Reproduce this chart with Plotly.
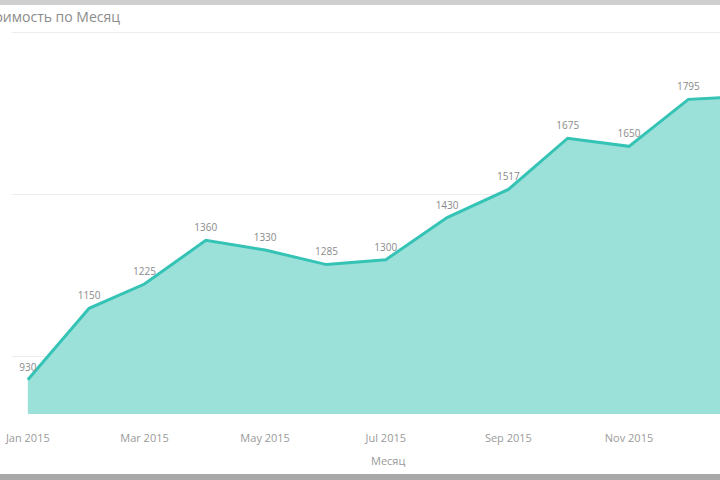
import plotly.graph_objects as go

months = ["2015-01-01", "2015-02-01", "2015-03-01", "2015-04-01", "2015-05-01", "2015-06-01",
          "2015-07-01", "2015-08-01", "2015-09-01", "2015-10-01", "2015-11-01", "2015-12-01",
          "2016-01-01"]
values = [930, 1150, 1225, 1360, 1330, 1285, 1300, 1430, 1517, 1675, 1650, 1795, 1805]
labels = ["930", "1150", "1225", "1360", "1330", "1285", "1300", "1430", "1517", "1675",
          "1650", "1795", ""]
tick_vals = ["2015-01-01", "2015-03-01", "2015-05-01", "2015-07-01", "2015-09-01", "2015-11-01"]
tick_text = ["Jan 2015", "Mar 2015", "May 2015", "Jul 2015", "Sep 2015", "Nov 2015"]
title_text = "Стоимость по Месяц"
x_title = "Месяц"

W, H = 720, 480
ml, mr, mt, mb = 12, 0, 30, 66
pw, ph = W - ml - mr, H - mt - mb

def px_x(p):
    return (p - ml) / pw

def px_y(p):
    return 1 - (p - mt) / ph

fig = go.Figure()
fig.add_trace(go.Scatter(
    x=months, y=values, mode="lines+markers+text",
    text=labels, textposition="top center",
    textfont=dict(family="Open Sans, sans-serif", size=10, color="#8a8a8a"),
    marker=dict(size=9, color="rgba(0,0,0,0)"),
    line=dict(color="#35C3B5", width=3),
    fill="tozeroy", fillcolor="#9BE1D9",
    hoverinfo="x+y", cliponaxis=True,
))

fig.update_layout(
    width=W, height=H,
    margin=dict(l=ml, r=mr, t=mt, b=mb),
    paper_bgcolor="white", plot_bgcolor="white",
    showlegend=False,
    font=dict(family="Open Sans, sans-serif"),
    xaxis=dict(
        type="date", range=["2014-12-24", "2015-12-17"],
        tickvals=tick_vals, ticktext=tick_text,
        tickfont=dict(size=11, color="#9a9a9a"),
        showgrid=False, zeroline=False, showline=False, ticks="",
        ticklabelstandoff=16,
    ),
    yaxis=dict(
        range=[824, 2009], tickvals=[1000, 1500, 2000],
        showticklabels=False, showgrid=True, gridcolor="#ececec", gridwidth=1,
        zeroline=False, showline=False, ticks="",
    ),
    annotations=[
        dict(text=title_text, xref="paper", yref="paper", x=px_x(122), y=px_y(16),
             xanchor="right", yanchor="middle", showarrow=False,
             font=dict(size=14, color="#8c8c8c")),
        dict(text=x_title, xref="paper", yref="paper", x=px_x(388), y=px_y(460),
             xanchor="center", yanchor="middle", showarrow=False,
             font=dict(size=11, color="#9a9a9a")),
    ],
    shapes=[
        dict(type="rect", xref="paper", yref="paper", x0=px_x(0), x1=px_x(720),
             y0=px_y(5), y1=px_y(0), fillcolor="#cfcfcf", line=dict(width=0), layer="above"),
        dict(type="rect", xref="paper", yref="paper", x0=px_x(0), x1=px_x(720),
             y0=px_y(480), y1=px_y(474), fillcolor="#a8a8a8", line=dict(width=0), layer="above"),
    ],
)

fig.write_html("out.html", config={"displayModeBar": False},
               post_script="document.body.style.margin='0';document.body.style.overflow='hidden';")
